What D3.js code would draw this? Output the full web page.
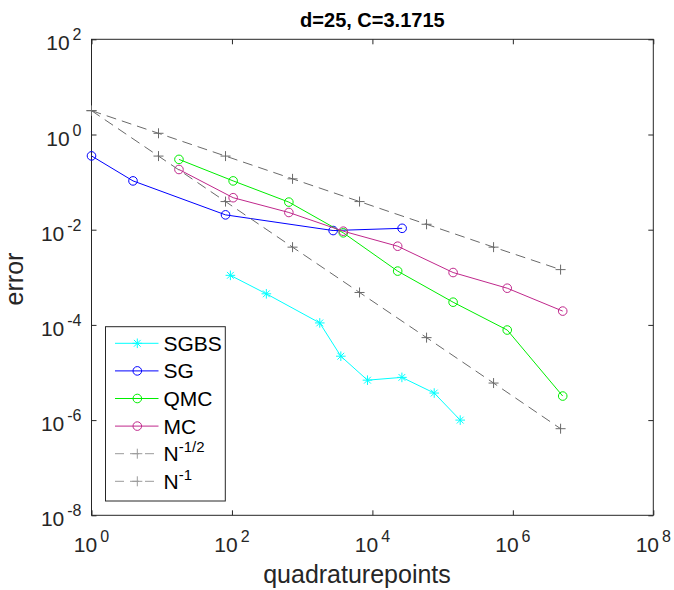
<!DOCTYPE html>
<html lang="en">
<head>
<meta charset="utf-8">
<title>d=25, C=3.1715</title>
<script src="https://cdn.jsdelivr.net/npm/d3@7"></script>
<style>
  body { margin: 0; background: #fff; font-family: 'Liberation Sans', Arial, sans-serif; }
  svg text { fill: #262626; }
</style>
</head>
<body>
<div id="chart"></div>
<script>

/* Data */
/* ============================= */

var sgbsN   = [95, 309, 1780, 3550, 8510, 26300, 75900, 178000];
var sgbsErr = [1.1e-3, 4.5e-4, 1.1e-4, 2.2e-5, 6.9e-6, 7.9e-6, 3.7e-6, 1.0e-6];

var sgN   = [1, 3.9, 81, 2760, 26500];
var sgErr = [0.355, 0.106, 0.0205, 0.0096, 0.0107];

var mcN    = [17.6, 104, 646, 3850, 22900, 141000, 832000, 5130000];
var qmcErr = [0.30, 0.106, 0.038, 0.0086, 1.35e-3, 3.0e-4, 7.8e-5, 3.2e-6];
var mcErr  = [0.184, 0.047, 0.023, 0.0093, 4.5e-3, 1.26e-3, 5.9e-4, 1.95e-4];

var refN      = [1, 9, 81, 729, 6561, 59049, 531441, 4782969];
var refHalf   = [3.17, 1.06, 0.352, 0.117, 0.039, 0.013, 0.0043, 0.00145];
var refOne    = [3.17, 0.352, 0.039, 0.0043, 4.8e-4, 5.4e-5, 6.0e-6, 6.6e-7];

var xTicks = [1e0, 1e2, 1e4, 1e6, 1e8];
var yTicks = [1e-8, 1e-6, 1e-4, 1e-2, 1e0, 1e2];

var series = [
  { name: 'SGBS', sup: null,   n: sgbsN, err: sgbsErr, color: '#00ffff', marker: 'star',   dash: null },
  { name: 'SG',   sup: null,   n: sgN,   err: sgErr,   color: '#0000ff', marker: 'circle', dash: null },
  { name: 'QMC',  sup: null,   n: mcN,   err: qmcErr,  color: '#00ee00', marker: 'circle', dash: null },
  { name: 'MC',   sup: null,   n: mcN,   err: mcErr,   color: '#c0288c', marker: 'circle', dash: null },
  { name: 'N',    sup: '-1/2', n: refN,  err: refHalf, color: '#6a6a6a', marker: 'plus',   dash: '10,6' },
  { name: 'N',    sup: '-1',   n: refN,  err: refOne,  color: '#6a6a6a', marker: 'plus',   dash: '10,6' }
];


/* Setup */
/* ===== */

var width = 674,
    height = 590,
    plotL = 91.5, plotR = 653.3,
    plotT = 39.3, plotB = 515.3,
    axisColor = '#262626';

var svg = d3.select('#chart').append('svg')
    .attr('width', width)
    .attr('height', height);

var x = d3.scaleLog().domain([1, 1e8]).range([plotL, plotR]);
var y = d3.scaleLog().domain([1e-8, 1e2]).range([plotB, plotT]);


/* Axes */
/* ==== */

function styleAxis(g) {
  g.select('.domain').remove();
  g.selectAll('.tick line').attr('stroke', axisColor);
  g.selectAll('.tick text').remove();
}

svg.append('g').attr('transform', 'translate(0,' + plotB + ')')
  .call(d3.axisBottom(x).tickValues(xTicks).tickSizeInner(-5).tickSizeOuter(0)).call(styleAxis);
svg.append('g').attr('transform', 'translate(0,' + plotT + ')')
  .call(d3.axisTop(x).tickValues(xTicks).tickSizeInner(-5).tickSizeOuter(0)).call(styleAxis);
svg.append('g').attr('transform', 'translate(' + plotL + ',0)')
  .call(d3.axisLeft(y).tickValues(yTicks).tickSizeInner(-5).tickSizeOuter(0)).call(styleAxis);
svg.append('g').attr('transform', 'translate(' + plotR + ',0)')
  .call(d3.axisRight(y).tickValues(yTicks).tickSizeInner(-5).tickSizeOuter(0)).call(styleAxis);

// Box
svg.append('rect')
  .attr('x', plotL).attr('y', plotT)
  .attr('width', plotR - plotL).attr('height', plotB - plotT)
  .attr('fill', 'none').attr('stroke', axisColor).attr('stroke-width', 1);

// Tick labels, 10^k
function powLabel(sel, k) {
  sel.append('tspan').text('10');
  sel.append('tspan').attr('dx', 3).attr('dy', -10).attr('font-size', 16).text(k);
}

svg.selectAll('.xlab').data(xTicks).enter().append('text')
  .attr('class', 'xlab')
  .attr('x', function(d) { return x(d); })
  .attr('y', plotB + 37)
  .attr('text-anchor', 'middle')
  .attr('font-size', 21)
  .each(function(d) { powLabel(d3.select(this), Math.round(Math.log10(d))); });

svg.selectAll('.ylab').data(yTicks).enter().append('text')
  .attr('class', 'ylab')
  .attr('x', plotL - 10)
  .attr('y', function(d) { return y(d) + 11; })
  .attr('text-anchor', 'end')
  .attr('font-size', 21)
  .each(function(d) { powLabel(d3.select(this), Math.round(Math.log10(d))); });

// Axis titles
svg.append('text')
  .attr('x', 357).attr('y', 583)
  .attr('text-anchor', 'middle')
  .attr('font-size', 25)
  .text('quadraturepoints');

svg.append('text')
  .attr('transform', 'translate(23,279) rotate(-90)')
  .attr('text-anchor', 'middle')
  .attr('font-size', 25)
  .text('error');

svg.append('text')
  .attr('x', (plotL + plotR) / 2).attr('y', 27)
  .attr('text-anchor', 'middle')
  .attr('font-size', 20)
  .attr('font-weight', 'bold')
  .style('fill', '#000')
  .text('d=25, C=3.1715');


/* Markers */
/* ======= */

function drawMarker(g, type, cx, cy, color) {
  if (type === 'circle') {
    g.append('circle').attr('cx', cx).attr('cy', cy).attr('r', 4.3)
      .attr('fill', 'none').attr('stroke', color).attr('stroke-width', 1);
  } else if (type === 'plus') {
    g.append('path')
      .attr('d', 'M' + (cx - 5) + ',' + cy + 'H' + (cx + 5) + 'M' + cx + ',' + (cy - 5) + 'V' + (cy + 5))
      .attr('stroke', color).attr('stroke-width', 1);
  } else { // star: plus and cross
    var s = 4.8, d = 3.4;
    g.append('path')
      .attr('d', 'M' + (cx - s) + ',' + cy + 'H' + (cx + s) +
                 'M' + cx + ',' + (cy - s) + 'V' + (cy + s) +
                 'M' + (cx - d) + ',' + (cy - d) + 'L' + (cx + d) + ',' + (cy + d) +
                 'M' + (cx - d) + ',' + (cy + d) + 'L' + (cx + d) + ',' + (cy - d))
      .attr('stroke', color).attr('stroke-width', 1);
  }
}


/* Lines */
/* ===== */

var line = d3.line()
  .x(function(d) { return x(d[0]); })
  .y(function(d) { return y(d[1]); });

var plot = svg.append('g');

series.forEach(function(s) {
  var pts = d3.zip(s.n, s.err);
  plot.append('path')
    .attr('d', line(pts))
    .attr('fill', 'none')
    .attr('stroke', s.color)
    .attr('stroke-width', 1)
    .attr('stroke-dasharray', s.dash);
  pts.forEach(function(p) { drawMarker(plot, s.marker, x(p[0]), y(p[1]), s.color); });
});


/* Legend */
/* ====== */

var legX = 105.5, legY = 326.7, legW = 119.8, legH = 174.3, rowH = 27.6;

var legend = svg.append('g');

legend.append('rect')
  .attr('x', legX).attr('y', legY)
  .attr('width', legW).attr('height', legH)
  .attr('fill', '#fff').attr('stroke', axisColor).attr('stroke-width', 1);

series.forEach(function(s, i) {
  var ry = legY + 16.6 + i * rowH;
  var col = s.dash ? '#9a9a9a' : s.color;
  legend.append('path')
    .attr('d', 'M' + (legX + 9.5) + ',' + ry + 'H' + (legX + 53))
    .attr('stroke', col).attr('stroke-width', 1)
    .attr('stroke-dasharray', s.dash ? '9,6' : null);
  drawMarker(legend, s.marker, legX + 31.8, ry, col);

  var t = legend.append('text')
    .attr('x', legX + 58).attr('y', ry + 7.5)
    .attr('font-size', 21)
    .style('fill', '#000');
  t.append('tspan').text(s.name);
  if (s.sup) t.append('tspan').attr('dy', -9).attr('font-size', 15).text(s.sup);
});

</script>
</body>
</html>
